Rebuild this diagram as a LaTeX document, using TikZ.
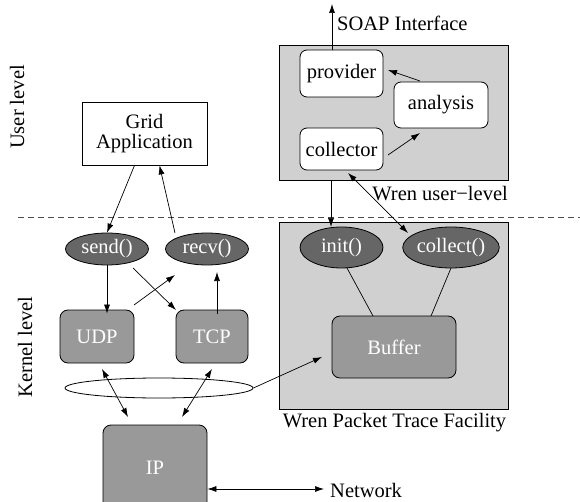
\documentclass[tikz,border=0pt]{standalone}
\usepackage{fontspec}
\setmainfont{Liberation Serif}
\usetikzlibrary{arrows.meta,shapes.geometric}
\definecolor{panel}{HTML}{D0D0D0}
\definecolor{dark}{HTML}{666666}
\definecolor{mid}{HTML}{999999}
\begin{document}
\begin{tikzpicture}[x=1pt,y=-1pt,
  every node/.style={font=\fontsize{20.5}{23}\selectfont, inner sep=0pt},
  panelbox/.style={draw, fill=panel, line width=0.8pt},
  plainbox/.style={draw, fill=white, line width=0.8pt, align=center},
  wbox/.style={draw, fill=white, rounded corners=7pt, line width=0.8pt},
  fnell/.style={ellipse, draw, fill=dark, text=white, line width=0.8pt},
  gbox/.style={draw, fill=mid, text=white, rounded corners=8pt, line width=0.8pt},
  conn/.style={line width=0.7pt, -{Latex[length=9pt,width=6pt]}},
  dconn/.style={line width=0.7pt, {Latex[length=9pt,width=6pt]}-{Latex[length=9pt,width=6pt]}},
  lconn/.style={line width=0.7pt}
]
\useasboundingbox (0,0) rectangle (580,502);
\clip (0,0) rectangle (580,502);
% panels
\node[panelbox, minimum width=229pt, minimum height=135pt] (upanel) at (393.5,112.5) {};
\node[panelbox, minimum width=229pt, minimum height=187pt] (kpanel) at (393.5,315.5) {};
% dashed separator
\coordinate (dl) at (18,217);
\coordinate (dr) at (580,217);
\draw[dashed, dash pattern=on 6pt off 4pt, line width=0.6pt, draw=black!70] (dl) -- (dr);
% level labels
\node[rotate=90] (ulev) at (17,107) {User level};
\node[rotate=90] (klev) at (25,347) {Kernel level};
% left nodes
\node[plainbox, minimum width=125pt, minimum height=63pt] (grid) at (144.5,133.5) {Grid\\[-3pt]Application};
\node[fnell, minimum width=83pt, minimum height=32pt] (send) at (107,249) {send()};
\node[fnell, minimum width=83pt, minimum height=32pt] (recv) at (207,249) {recv()};
\node[gbox, minimum width=74pt, minimum height=53pt] (udp) at (97,336.5) {UDP};
\node[gbox, minimum width=72pt, minimum height=53pt] (tcp) at (212,336.5) {TCP};
\node[ellipse, draw, line width=0.8pt, minimum width=188pt, minimum height=20pt] (tap) at (159,388) {};
\node[gbox, minimum width=104pt, minimum height=86pt] (ip) at (155,468) {};
\node (iplab) at (155,468) [text=white] {IP};
% right nodes
\node[wbox, minimum width=83pt, minimum height=47pt] (prov) at (341.5,73.5) {provider};
\node[wbox, minimum width=94pt, minimum height=46pt] (anal) at (441,105) {analysis};
\node[wbox, minimum width=83pt, minimum height=42pt] (coll) at (341.5,149) {collector};
\node[fnell, minimum width=83pt, minimum height=41pt] (init) at (341.5,247.5) {init()};
\node[fnell, minimum width=84pt, minimum height=41pt] (collect) at (451,247.5) {collect()};
\node[gbox, minimum width=124pt, minimum height=62pt] (buf) at (394,347) {Buffer};
% labels
\node[anchor=west] (soap) at (337,23) {SOAP Interface};
\node[anchor=east] (wul) at (508,194) {Wren user{\char"2212}level};
\node[anchor=center] (wptf) at (394.5,423) {Wren Packet Trace Facility};
\node[anchor=west] (net) at (330,490) {Network};
\coordinate (soaptop) at (332,4);
\coordinate (netend) at (324,489);
% connectors left
\draw[conn] ([xshift=-10pt]grid.south) -- (send.north);
\draw[conn] (175,233) -- ([xshift=15pt]grid.south);
\draw[conn] (send.south) -- ([yshift=-4pt]udp.north -| send);
\draw[conn] ([yshift=-4pt]tcp.north -| 217,0) -- (217,272);
\draw[conn] (133,268) -- (176,310);
\draw[conn] (134,305) -- (175,275);
\draw[dconn] (102,369) -- (128,417);
\draw[dconn] (212,369) -- (182,417);
\draw[conn] (tap.east) -- (322,357);
\draw[dconn] (ip.east |- 0,489) -- (netend);
% connectors right
\draw[conn] (332,50) -- (soaptop);
\draw[conn] (420,81) -- (388,70);
\draw[conn] (388,155) -- (420,133);
\draw[conn] (331,180) -- (331,227);
\draw[dconn] (348,173) -- (408,233);
\draw[lconn] (347,268) -- (373,316);
\draw[lconn] (451,268) -- (431,316);
\end{tikzpicture}
\end{document}
